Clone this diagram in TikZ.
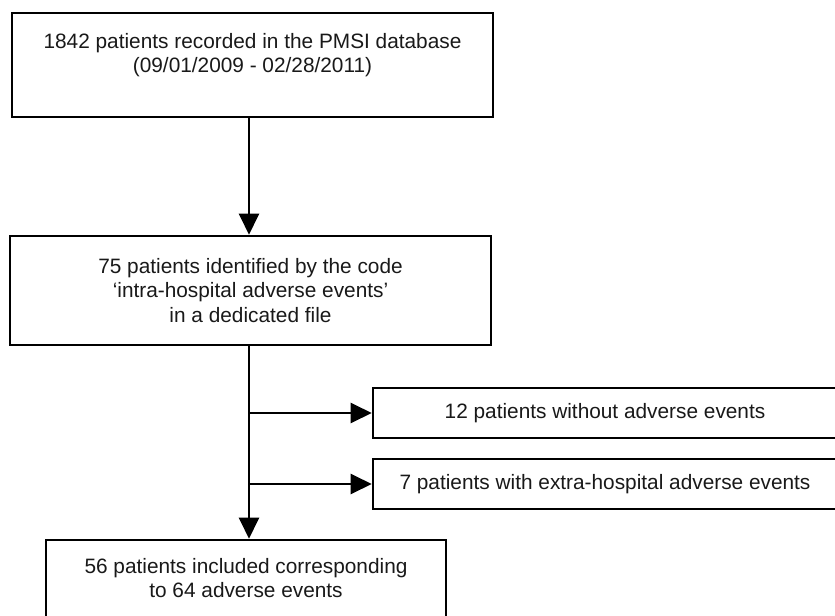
\documentclass[tikz,border=0pt]{standalone}
\usepackage{fontspec}
\setmainfont{Liberation Sans}
\usetikzlibrary{arrows.meta}
\tikzset{
  box/.style={draw=black, line width=2.6bp, rectangle, inner sep=0pt, align=center,
    font=\fontsize{20.9}{24.5}\selectfont, text=black!90},
  arr/.style={draw=black, line width=2.4bp, -{Triangle[length=21bp,width=20bp]}},
  ln/.style={draw=black, line width=2.4bp}
}
\begin{document}
\begin{tikzpicture}[x=1bp,y=-1bp]
\useasboundingbox (0,0) rectangle (835,616);
\clip (0,0) rectangle (835,616);
\fill[white] (0,0) rectangle (835,616);
\coordinate (spine) at (249,0);
\node[box, minimum width=481bp, minimum height=104bp] (b1) at (252.5,65)
  {1842 patients recorded in the PMSI database\\(09/01/2009 - 02/28/2011)\\\mbox{}};
\node[box, minimum width=481bp, minimum height=109bp] (b2) at (250.5,290.5)
  {75 patients identified by the code\\`intra-hospital adverse events'\\in a dedicated file};
\node[box, minimum width=464bp, minimum height=50bp] (b3) at (605,413)
  {12 patients without adverse events};
\node[box, minimum width=464bp, minimum height=50bp] (b4) at (605,484)
  {7 patients with extra-hospital adverse events};
\node[box, minimum width=400bp, minimum height=100bp] (b5) at (246,590)
  {56 patients included corresponding\\to 64 adverse events\\\mbox{}};
\draw[arr] (spine |- b1.south) -- (spine |- b2.north);
\draw[arr] (spine |- b2.south) -- (spine |- b5.north);
\draw[arr] (spine |- b3.west) -- (b3.west);
\draw[arr] (spine |- b4.west) -- (b4.west);
\end{tikzpicture}
\end{document}
